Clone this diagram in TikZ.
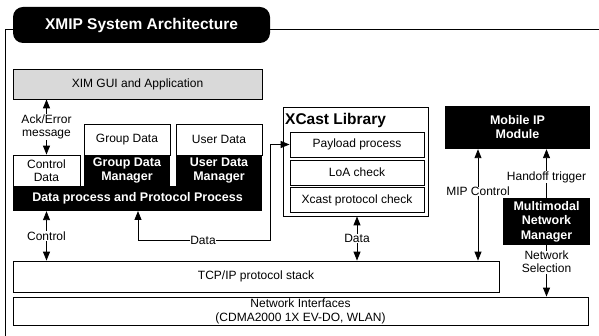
\documentclass[tikz,border=0pt]{standalone}
\usepackage{fontspec}
\setmainfont{Liberation Sans}
\usetikzlibrary{arrows.meta}

\begin{document}
\begin{tikzpicture}[x=1pt,y=-1pt]
	\tikzstyle{plain} = [draw, line width=0.8pt, fill=white, inner sep=0pt, align=center, font=\fontsize{12}{13}\selectfont]
	\tikzstyle{dark} = [fill=black, text=white, inner sep=0pt, align=center, font=\fontsize{12.5}{14}\selectfont\bfseries]
	\tikzstyle{lbl} = [fill=white, inner sep=0.5pt, align=center, font=\fontsize{12}{13}\selectfont]
	\tikzset{link/.style = {line width=0.9pt, -{Triangle[length=9pt,width=7pt]}}}
	\tikzset{both/.style = {link, {Triangle[length=9pt,width=7pt]}-{Triangle[length=9pt,width=7pt]}}}
	
	\useasboundingbox (0,0) rectangle (599,336);
	
	% outer frame and heading
	\draw[line width=0.8pt] (5,336) -- (5,29) -- (599,29);
	\node[dark, rounded corners=10pt, minimum width=257pt, minimum height=36pt, font=\fontsize{15.5}{17}\selectfont\bfseries](title) at (141.5,25) {XMIP System Architecture};
	
	\node[plain, fill=gray!30, minimum width=249pt, minimum height=30pt](gui) at (137.5,84) {XIM GUI and Application};
	
	% data handling block
	\node[dark, minimum width=249pt, minimum height=25pt](dataproc) at (137.5,198.5) {Data process and Protocol Process};
	\node[plain, minimum width=67pt, minimum height=31pt](ctrldata) at (46.5,170.5) {Control\\Data};
	\node[plain, minimum width=86pt, minimum height=31pt](groupdata) at (127,139.5) {Group Data};
	\node[dark, minimum width=86pt, minimum height=31pt](groupmgr) at (127,170.5) {Group Data\\Manager};
	\node[plain, minimum width=86pt, minimum height=31pt](userdata) at (219,139.5) {User Data};
	\node[dark, minimum width=86pt, minimum height=31pt](usermgr) at (219,170.5) {User Data\\Manager};
	
	% xcast library
	\node[plain, minimum width=145pt, minimum height=109pt](xcast) at (355.5,161.5) {};
	\node[anchor=west, inner sep=0pt, font=\fontsize{15.5}{17}\selectfont\bfseries](xcasttitle) at (285,120) {XCast Library};
	\node[plain, minimum width=134pt, minimum height=25pt](payload) at (357,144.5) {Payload process};
	\node[plain, minimum width=134pt, minimum height=25pt](loacheck) at (357,172.5) {LoA check};
	\node[plain, minimum width=134pt, minimum height=25pt](protocheck) at (357,200) {Xcast protocol check};
	
	\node[dark, minimum width=145pt, minimum height=43pt](mobileip) at (517.5,127.5) {Mobile IP\\Module};
	\node[dark, minimum width=87pt, minimum height=47pt, font=\fontsize{12.5}{14.5}\selectfont\bfseries](mmnm) at (546.5,221.5) {Multimodal\\Network\\Manager};
	
	\node[plain, minimum width=486pt, minimum height=31pt](tcpip) at (256,276.5) {TCP/IP protocol stack};
	\node[plain, minimum width=575pt, minimum height=28pt, font=\fontsize{12}{14}\selectfont](netif) at (300.5,311) {Network Interfaces\\(CDMA2000 1X EV-DO, WLAN)};
	
	% connectors
	\coordinate (dtop) at (138,211);
	\coordinate (dbend) at (270,240);
	\coordinate (mipx) at (478,0);
	\draw[both](ctrldata.north) -- node[lbl]{Ack/Error\\message} (ctrldata.north |- gui.south);
	\draw[both](dataproc.south -| ctrldata) -- node[lbl]{Control} (tcpip.north -| ctrldata);
	\draw[both](dtop) |- (dbend) |- (payload.west);
	\node[lbl](dlabel) at (203,240) {Data};
	\draw[both](xcast.south -| payload) -- node[lbl]{Data} (tcpip.north -| payload);
	\draw[both](mobileip.south -| mipx) -- node[lbl, pos=0.38]{MIP Control} (tcpip.north -| mipx);
	\draw[link](mmnm.north) -- node[lbl, pos=0.43]{Handoff trigger} (mobileip.south -| mmnm);
	\draw[link](mmnm.south) -- node[lbl, pos=0.33]{Network\\Selection} (netif.north -| mmnm);
	
\end{tikzpicture}
\end{document}
